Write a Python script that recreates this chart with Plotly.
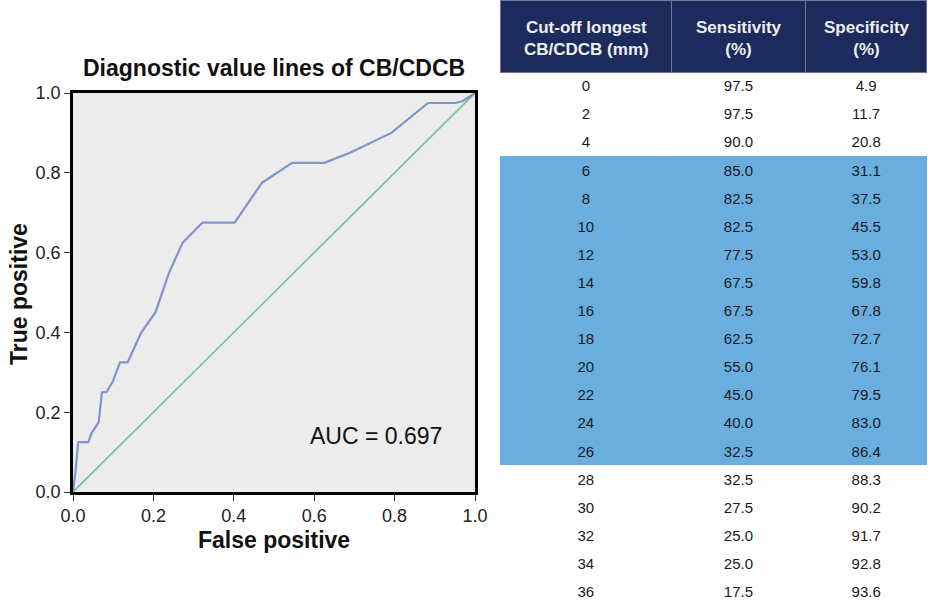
import plotly.graph_objects as go

# ROC curve (false positive rate, true positive rate)
roc_fpr = [0.0, 0.006, 0.013, 0.038, 0.046, 0.064, 0.072, 0.083, 0.098, 0.117, 0.136,
           0.170, 0.205, 0.239, 0.273, 0.322, 0.402, 0.470, 0.545, 0.625, 0.689,
           0.792, 0.883, 0.951, 0.970, 1.0]
roc_tpr = [0.0, 0.05, 0.125, 0.125, 0.147, 0.175, 0.25, 0.25, 0.275, 0.325, 0.325,
           0.40, 0.45, 0.55, 0.625, 0.675, 0.675, 0.775, 0.825, 0.825, 0.85,
           0.90, 0.975, 0.975, 0.98, 1.0]
ref_line = [0.0, 1.0]
auc_text = "AUC = 0.697"
tick_vals = [0.0, 0.2, 0.4, 0.6, 0.8, 1.0]

# Table values
cutoffs = ["0", "2", "4", "6", "8", "10", "12", "14", "16", "18", "20", "22", "24",
           "26", "28", "30", "32", "34", "36"]
sensitivity = ["97.5", "97.5", "90.0", "85.0", "82.5", "82.5", "77.5", "67.5", "67.5",
               "62.5", "55.0", "45.0", "40.0", "32.5", "32.5", "27.5", "25.0", "25.0", "17.5"]
specificity = ["4.9", "11.7", "20.8", "31.1", "37.5", "45.5", "53.0", "59.8", "67.8",
               "72.7", "76.1", "79.5", "83.0", "86.4", "88.3", "90.2", "91.7", "92.8", "93.6"]
headers = ["Cut-off longest<br>CB/CDCB (mm)", "Sensitivity<br>(%)", "Specificity<br>(%)"]
highlighted_cutoffs = ["6", "8", "10", "12", "14", "16", "18", "20", "22", "24", "26"]

W, H = 928, 608
FONT = "Liberation Sans, Arial, sans-serif"
BLUE = "#6aaee0"
NAVY = "#1d2b5c"
row_fill = [BLUE if c in highlighted_cutoffs else "white" for c in cutoffs]

# table geometry (layout only)
col_widths = [172, 134, 122]
tbl_x0 = 500 / W
tbl_w = 1.0 - tbl_x0
header_h = 72
row_h = 28.1

fig = go.Figure()

fig.add_trace(go.Scatter(x=ref_line, y=ref_line, mode="lines",
                         line=dict(color="#72c48e", width=1.6),
                         hoverinfo="skip", showlegend=False))
fig.add_trace(go.Scatter(x=roc_fpr, y=roc_tpr, mode="lines",
                         line=dict(color="#8393cc", width=2.2),
                         showlegend=False))

fig.add_trace(go.Table(
    domain=dict(x=[tbl_x0, 1.0], y=[0.0, 1.0]),
    columnwidth=col_widths,
    header=dict(values=["", "", ""],
                fill_color=NAVY,
                line=dict(color="#6f789b", width=1),
                font=dict(family=FONT, size=17, color="#f2f2f2"),
                align="center", height=header_h),
    cells=dict(values=[cutoffs, sensitivity, specificity],
               fill_color=[row_fill] * 3,
               line=dict(color=[row_fill] * 3, width=0.5),
               font=dict(family=FONT, size=15, color="#1a1a1a"),
               align="center", height=row_h),
))

x0, x1 = 73 / W, 475 / W
y0, y1 = 1 - 492 / H, 1 - 93 / H

axis_common = dict(range=[0, 1], tickvals=tick_vals, tickformat=".1f",
                   showgrid=False, zeroline=False, showline=True, mirror=True,
                   linecolor="black", linewidth=2.6, ticks="outside", ticklen=6,
                   tickcolor="#333", tickwidth=1.2, automargin=False,
                   tickfont=dict(family=FONT, size=18, color="#222"))

annotations = [
    dict(text="<b>Diagnostic value lines of CB/CDCB</b>", xref="paper", yref="paper",
         x=(x0 + x1) / 2, y=1 - 68 / H, showarrow=False, xanchor="center", yanchor="middle",
         font=dict(family=FONT, size=23, color="#111")),
    dict(text="<b>True positive</b>", xref="paper", yref="paper",
         x=19 / W, y=1 - 294 / H, textangle=-90, showarrow=False,
         xanchor="center", yanchor="middle",
         font=dict(family=FONT, size=23, color="#111")),
    dict(text="<b>False positive</b>", xref="paper", yref="paper",
         x=(x0 + x1) / 2, y=1 - 540 / H, showarrow=False,
         xanchor="center", yanchor="middle",
         font=dict(family=FONT, size=23, color="#111")),
    dict(text=auc_text, xref="x", yref="y", x=0.754, y=0.14, showarrow=False,
         xanchor="center", yanchor="middle",
         font=dict(family=FONT, size=23, color="#111")),
]

# header texts, centred line by line over each column
total_w = sum(col_widths)
acc = 0
for h, cw in zip(headers, col_widths):
    cx = tbl_x0 + tbl_w * (acc + cw / 2) / total_w
    acc += cw
    annotations.append(dict(text=f"<b>{h}</b>", xref="paper", yref="paper",
                            x=cx, y=1 - 38 / H, showarrow=False, align="center",
                            xanchor="center", yanchor="middle",
                            font=dict(family=FONT, size=17, color="#eeeeee")))

fig.update_layout(
    width=W, height=H, autosize=False,
    margin=dict(l=0, r=0, t=0, b=0, pad=0),
    paper_bgcolor="white", plot_bgcolor="#ececec",
    xaxis=dict(domain=[x0, x1], **axis_common),
    yaxis=dict(domain=[y0, y1], **axis_common),
    annotations=annotations,
)

fig.write_html("out.html",
               config={"displayModeBar": False},
               post_script="document.body.style.margin='0';document.body.style.overflow='hidden';")
